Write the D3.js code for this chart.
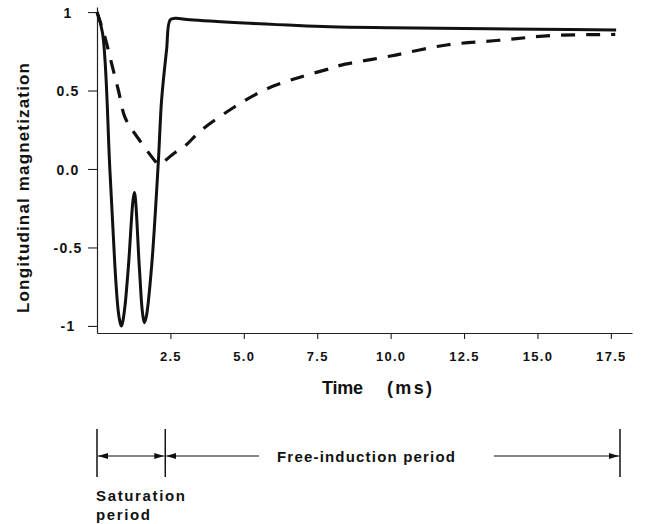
<!DOCTYPE html>
<html>
<head>
<meta charset="utf-8">
<script src="https://cdn.jsdelivr.net/npm/d3@7"></script>
<style>
  body { margin: 0; background: #fff; }
  svg { display: block; }
  text { font-family: "Liberation Sans", Arial, sans-serif; font-weight: bold; fill: #111; }
</style>
</head>
<body>
<svg id="chart" width="652" height="524"></svg>
<script>
// ---- data ----
const solidT = [0, 0.19, 0.44, 0.61, 0.72, 0.79, 0.83, 0.88, 0.96, 1.07, 1.27, 1.44, 1.54, 1.61, 1.68, 1.86, 2.09, 2.20, 2.37, 2.49, 2.66, 3.17, 5.0, 7.94, 10.0, 12.5, 15.0, 17.68];
const solidM = [1.0, 0.865, -0.01, -0.62, -0.90, -0.98, -1.0, -0.97, -0.86, -0.62, -0.15, -0.62, -0.90, -0.98, -0.94, -0.62, 0.05, 0.44, 0.76, 0.95, 0.96, 0.95, 0.93, 0.906, 0.90, 0.895, 0.89, 0.885];
const dashT = [0, 0.27, 0.50, 0.73, 0.95, 1.20, 1.46, 1.98, 2.09, 2.66, 3.0, 3.51, 4.64, 5.78, 6.91, 7.94, 8.28, 10.0, 11.9, 13.7, 15.5, 17.65];
const dashM = [1.0, 0.84, 0.67, 0.50, 0.33, 0.25, 0.18, 0.05, 0.03, 0.105, 0.147, 0.24, 0.39, 0.51, 0.585, 0.64, 0.66, 0.72, 0.79, 0.82, 0.85, 0.857];
const xTicks = [2.5, 5.0, 7.5, 10.0, 12.5, 15.0, 17.5];
const yTicks = [1, 0.5, 0, -0.5, -1];
const yTickLabels = ["1", "0.5", "0.0", "-0.5", "-1"];
const periodBounds = [0, 2.35, 18.0]; // saturation start, end, free-induction end (ms)
const xTitle = ["Time", "(ms)"];
const yTitle = "Longitudinal magnetization";
const periodLabels = ["Free-induction period", "Saturation", "period"];

// ---- layout ----
const svg = d3.select("#chart");
const x = d3.scaleLinear().domain([0, 18.22]).range([97, 632]);
const y = d3.scaleLinear().domain([-1.045, 1.032]).range([333, 7]);

// axes
const gx = svg.append("g").attr("transform", "translate(0,333)")
  .call(d3.axisBottom(x).tickValues(xTicks).tickFormat(d3.format(".1f")).tickSize(6).tickSizeOuter(0).tickPadding(10));
gx.attr("font-family", null).attr("font-size", null);
gx.select(".domain").attr("stroke", "#222").attr("stroke-width", 1.2);
gx.selectAll(".tick line").attr("stroke", "#222").attr("stroke-width", 1.1);
gx.selectAll(".tick text").style("font-size", "13px").style("letter-spacing", "1.3px").attr("fill", "#111").attr("dy", "0.9em");

const gy = svg.append("g").attr("transform", "translate(97,0)")
  .call(d3.axisLeft(y).tickValues(yTicks).tickFormat((d, i) => yTickLabels[i]).tickSize(9).tickSizeOuter(0));
gy.attr("font-family", null).attr("font-size", null);
gy.select(".domain").attr("stroke", "#222").attr("stroke-width", 1.2);
gy.selectAll(".tick line").attr("stroke", "#222").attr("stroke-width", 1.1);
gy.selectAll(".tick text").style("font-size", "14px").style("letter-spacing", "1.2px")
  .attr("fill", "#111").attr("text-anchor", "middle").attr("x", -29).attr("dy", "0.36em");

// curves
const mk = d3.line().x(d => x(d[0])).y(d => y(d[1])).curve(d3.curveCatmullRom.alpha(0.5));
svg.append("path").datum(dashT.map((t, i) => [t, dashM[i]]))
  .attr("d", mk).attr("fill", "none").attr("stroke", "#111").attr("stroke-width", 3.2)
  .attr("stroke-dasharray", "14,11");
svg.append("path").datum(solidT.map((t, i) => [t, solidM[i]]))
  .attr("d", mk).attr("fill", "none").attr("stroke", "#111").attr("stroke-width", 3)
  .attr("stroke-linejoin", "round");

// titles
svg.append("text").attr("x", 322).attr("y", 394).style("font-size", "18px")
  .attr("textLength", 41).attr("lengthAdjust", "spacing").text(xTitle[0]);
svg.append("text").attr("x", 387).attr("y", 394).style("font-size", "18px")
  .attr("textLength", 45).attr("lengthAdjust", "spacing").text(xTitle[1]);
svg.append("text").attr("transform", "translate(29,188) rotate(-90)").attr("text-anchor", "middle")
  .style("font-size", "17px").attr("textLength", 250).attr("lengthAdjust", "spacing").text(yTitle);

// period annotation
const ay = 456;
const defs = svg.append("defs");
defs.append("marker").attr("id", "ah").attr("viewBox", "0 0 10 6").attr("refX", 10).attr("refY", 3)
  .attr("markerWidth", 10).attr("markerHeight", 6).attr("markerUnits", "userSpaceOnUse").attr("orient", "auto-start-reverse")
  .append("path").attr("d", "M0,0 L10,3 L0,6 Z").attr("fill", "#111");
const xb = d => 97 + (d / 18.0) * (620 - 97);
const bx = periodBounds.map(xb);
svg.selectAll(".bar").data(bx).join("line").attr("class", "bar")
  .attr("x1", d => d).attr("x2", d => d).attr("y1", 429).attr("y2", 477)
  .attr("stroke", "#111").attr("stroke-width", 1.5);
// saturation double arrow
svg.append("line").attr("x1", bx[0] + 1).attr("x2", bx[1] - 1).attr("y1", ay).attr("y2", ay)
  .attr("stroke", "#111").attr("stroke-width", 1.2).attr("marker-start", "url(#ah)").attr("marker-end", "url(#ah)");
// free-induction arrows
svg.append("line").attr("x1", 259).attr("x2", bx[1] + 1).attr("y1", ay).attr("y2", ay)
  .attr("stroke", "#111").attr("stroke-width", 1.2).attr("marker-end", "url(#ah)");
svg.append("line").attr("x1", 494).attr("x2", bx[2] - 1).attr("y1", ay).attr("y2", ay)
  .attr("stroke", "#111").attr("stroke-width", 1.2).attr("marker-end", "url(#ah)");
svg.append("text").attr("x", 277).attr("y", 462).style("font-size", "15px")
  .attr("textLength", 178).attr("lengthAdjust", "spacing").text(periodLabels[0]);
svg.append("text").attr("x", 96).attr("y", 501).style("font-size", "15px")
  .attr("textLength", 89).attr("lengthAdjust", "spacing").text(periodLabels[1]);
svg.append("text").attr("x", 96).attr("y", 520).style("font-size", "15px")
  .attr("textLength", 54).attr("lengthAdjust", "spacing").text(periodLabels[2]);
</script>
</body>
</html>
